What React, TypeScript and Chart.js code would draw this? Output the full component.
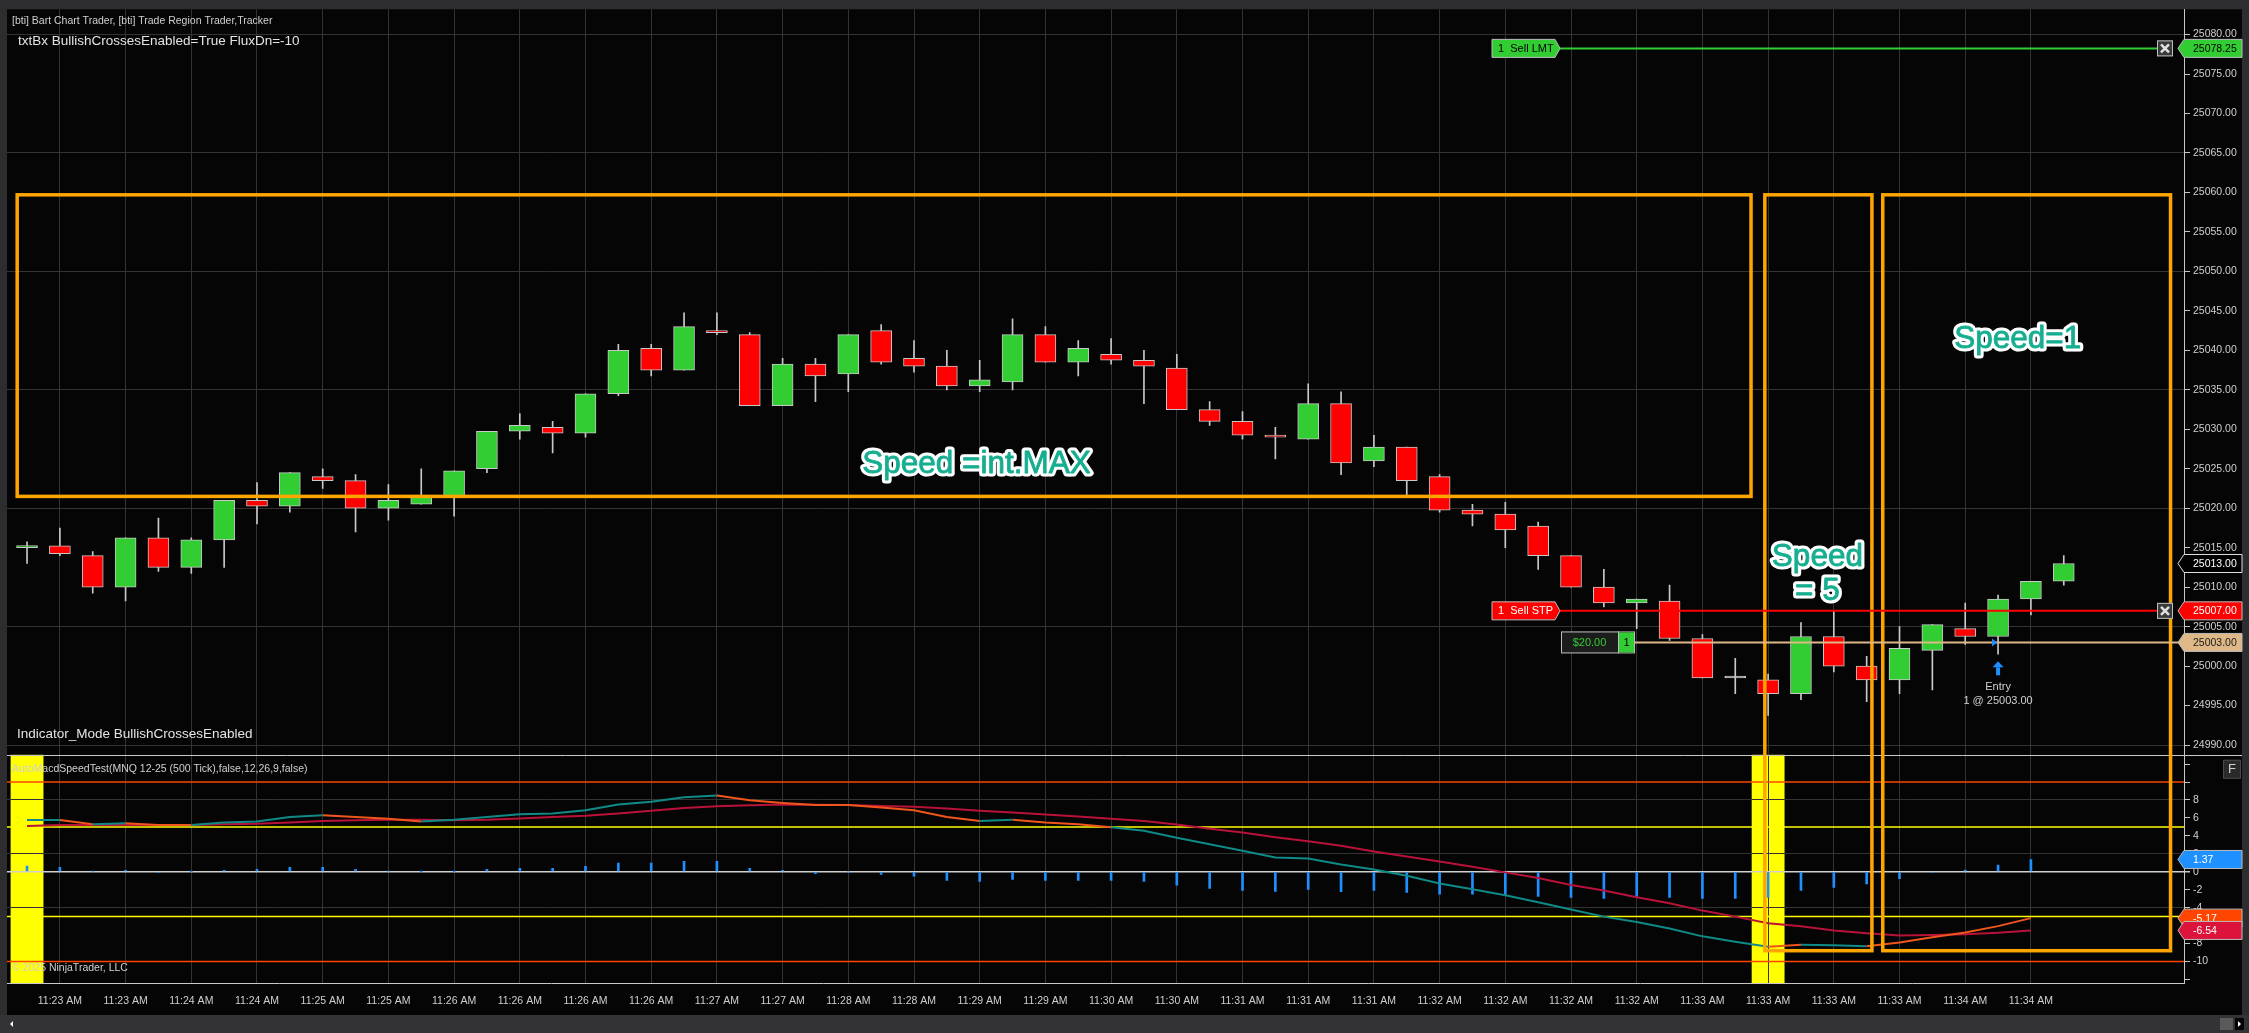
import React, { useEffect, useRef } from 'react';
import { Chart, registerables } from 'chart.js';

Chart.register(...registerables);

// ---------------- DATA ----------------
const opens = [
  25015, 25015.25, 25014, 25010, 25016.25, 25012.5, 25016, 25021, 25020.25, 25024,
  25023.5, 25020, 25020.5, 25021.5, 25025, 25029.75, 25030.25, 25029.5, 25034.5, 25040.25,
  25037.5, 25042.5, 25042, 25033, 25038.25, 25037, 25042.5, 25039, 25038, 25035.5,
  25036, 25042, 25038.5, 25039.5, 25038.75, 25037.75, 25032.5, 25031, 25029.25, 25028.75,
  25033.25, 25026, 25027.75, 25024, 25019.75, 25019.25, 25017.75, 25014, 25010, 25008,
  25008.25, 25003.5, 24998.5, 24998.25, 24996.5, 25003.75, 25000, 24998.25, 25002, 25004.75,
  25003.75, 25008.5, 25010.75,
];
const highs = [
  25015.75, 25017.5, 25014.5, 25016.25, 25018.75, 25016.25, 25021, 25023.25, 25024.5, 25025,
  25024.25, 25023, 25025, 25024.75, 25029.75, 25032, 25031, 25034.5, 25040.75, 25040.75,
  25044.75, 25044.75, 25042.25, 25039, 25039, 25042, 25043.25, 25041.25, 25040, 25038.75,
  25044, 25043, 25041.25, 25041.5, 25040, 25039.5, 25033.5, 25032.25, 25030.25, 25035.75,
  25034.75, 25029.25, 25027.75, 25024.25, 25020.5, 25020.75, 25018.25, 25014, 25012.25, 25008.5,
  25010.25, 25004, 25001, 24999, 25005.5, 25007, 25001.25, 25005, 25005.25, 25008,
  25009, 25010.75, 25014,
];
const lows = [
  25013, 25014, 25009.25, 25008.25, 25012, 25011.75, 25012.5, 25018, 25019.5, 25022.5,
  25017, 25018.5, 25020.5, 25019, 25024.5, 25028.75, 25027, 25029, 25034.25, 25036.75,
  25037.5, 25042, 25033, 25033, 25033.5, 25034.75, 25038.25, 25037.25, 25035, 25034.75,
  25035, 25038.5, 25036.75, 25038.25, 25033.25, 25032.5, 25030.5, 25028.75, 25026.25, 25028.75,
  25024.25, 25025.25, 25021.5, 25019.5, 25017.75, 25015, 25012.25, 25010, 25007.5, 25004.75,
  25003.25, 24998.5, 24996.5, 24993.75, 24995.75, 24999.25, 24995.5, 24996.5, 24997, 25002.75,
  25001.5, 25006.5, 25010.25,
];
const closes = [
  25015.25, 25014.25, 25010, 25016.25, 25012.5, 25016, 25021, 25020.25, 25024.5, 25023.5,
  25020, 25021, 25021.5, 25024.75, 25029.75, 25030.5, 25029.5, 25034.5, 25040, 25037.5,
  25043, 25042.25, 25033, 25038.25, 25036.75, 25042, 25038.5, 25038, 25035.5, 25036.25,
  25042, 25038.5, 25040.25, 25038.75, 25038, 25032.5, 25031, 25029.25, 25029, 25033.25,
  25025.75, 25027.75, 25023.5, 25019.75, 25019.25, 25017.25, 25014, 25010, 25008, 25008.5,
  25003.5, 24998.5, 24998.5, 24996.5, 25003.75, 25000, 24998.25, 25002.25, 25005.25, 25003.75,
  25008.5, 25010.75, 25013,
];

const macdValues = [
  5.78, 5.78, 5.3, 5.4, 5.2, 5.2, 5.5, 5.6, 6.1, 6.3,
  6.1, 5.9, 5.6, 5.8, 6.1, 6.4, 6.5, 6.85, 7.5, 7.8,
  8.3, 8.5, 7.96, 7.67, 7.44, 7.44, 7.15, 6.85, 6.1, 5.67,
  5.8, 5.48, 5.3, 4.96, 4.56, 3.8, 3.07, 2.33, 1.6, 1.48,
  0.8, 0.26, -0.44, -1.3, -1.96, -2.63, -3.4, -4.2, -5.0, -5.6,
  -6.33, -7.2, -7.8, -8.37, -8.15, -8.2, -8.3, -7.88, -7.3, -6.78,
  -6.06, -5.17,
];
const signalValues = [
  5.1, 5.2, 5.2, 5.2, 5.2, 5.2, 5.3, 5.35, 5.5, 5.65,
  5.75, 5.8, 5.8, 5.75, 5.8, 5.95, 6.1, 6.25, 6.5, 6.8,
  7.1, 7.3, 7.42, 7.5, 7.48, 7.45, 7.33, 7.26, 7.04, 6.8,
  6.6, 6.37, 6.15, 5.9, 5.67, 5.26, 4.8, 4.37, 3.85, 3.4,
  2.89, 2.26, 1.7, 1.15, 0.56, -0.07, -0.7, -1.48, -2.1, -2.85,
  -3.5, -4.33, -5.0, -5.74, -6.07, -6.55, -6.85, -7.1, -7.05, -6.96,
  -6.8, -6.54,
];
const histValues = [
  0.63, 0.5, 0.07, 0.15, -0.1, 0.02, 0.15, 0.26, 0.48, 0.48,
  0.26, 0.07, 0.02, 0.02, 0.26, 0.37, 0.37, 0.6, 0.96, 0.96,
  1.15, 1.15, 0.37, 0.15, -0.2, -0.02, -0.3, -0.5, -0.96, -1.07,
  -0.85, -0.96, -0.96, -0.96, -1.07, -1.5, -1.85, -2.07, -2.2, -1.96,
  -2.22, -2.07, -2.3, -2.5, -2.5, -2.63, -2.74, -2.85, -2.96, -2.74,
  -2.85, -2.96, -2.96, -2.85, -2.07, -1.74, -1.35, -0.78, -0.1, 0.18,
  0.74, 1.37,
];
// MACD segment state per segment (T = teal, O = orange)
const macdSegmentCodes = 'TOTOOTTTTOOO' + 'TTTTTTTTT' + 'O' + 'OOOOOOO' + 'T' + 'OOO' + 'TTTTTTTTTTTTTTTTTTTT' + 'O' + 'TT' + 'OOOOO';

const timeLabels = [
  '11:23 AM', '11:23 AM', '11:24 AM', '11:24 AM', '11:25 AM', '11:25 AM', '11:26 AM', '11:26 AM',
  '11:26 AM', '11:26 AM', '11:27 AM', '11:27 AM', '11:28 AM', '11:28 AM', '11:29 AM', '11:29 AM',
  '11:30 AM', '11:30 AM', '11:31 AM', '11:31 AM', '11:31 AM', '11:32 AM', '11:32 AM', '11:32 AM',
  '11:32 AM', '11:33 AM', '11:33 AM', '11:33 AM', '11:33 AM', '11:34 AM', '11:34 AM',
];
const priceTicks = [
  24990, 24995, 25000, 25005, 25010, 25015, 25020, 25025, 25030, 25035,
  25040, 25045, 25050, 25055, 25060, 25065, 25070, 25075, 25080,
];
const indicatorTicks = [-12, -10, -8, -6, -4, -2, 0, 2, 4, 6, 8, 10, 12];
const indicatorOuterLevels = [10, -10];
const indicatorInnerLevels = [5, -5];
const highlightBars = [0, 53];

const boxLeft = [-0.3, 52.9, 56.49];
const boxRight = [52.48, 56.16, 65.25];
const boxTopPrice = [25059.7, 25059.7, 25059.7];
const boxBottomPrice = [25021.5, NaN, NaN];
const boxBottomIndicator = [NaN, -8.8, -8.8];

const speedTexts = ['Speed =int.MAX', 'Speed', '= 5', 'Speed=1'];
const speedTextBar = [28.9, 54.5, 54.5, 60.6];
const speedTextPrice = [25025.5, 25013.8, 25009.5, 25041.4];

const sellLimitPrice = 25078.25;
const sellStopPrice = 25007;
const avgEntryPrice = 25003;
const entryBar = 60;
const positionQty = 1;
const unrealizedPnl = '$20.00';

// ---------------- STYLE ----------------
const GREEN = '#32cd32';
const RED = '#ff0000';
const OUTLINE = '#c8c8c8';
const BLUE = '#1e90ff';
const TEAL = '#0f8a86';
const ORANGE = '#f0561c';
const CRIMSON = '#b8123a';
const GRID = '#333333';
const AXIS = '#c8c8c8';
const LABEL = '#d0d0d0';
const BOX = '#ffa500';
const FRAME = '#2d2d30';
const BG = '#050505';
const TAN = '#deb887';
const SPEED = '#16ae90';
const FONT = '"Liberation Sans", Arial, sans-serif';

function valueTag(ctx: CanvasRenderingContext2D, x: number, yc: number, text: string, fill: string, color: string, stroke: string) {
  const h = 18, w = 58, p = 6;
  ctx.beginPath();
  ctx.moveTo(x - p, yc);
  ctx.lineTo(x, yc - h / 2);
  ctx.lineTo(x + w, yc - h / 2);
  ctx.lineTo(x + w, yc + h / 2);
  ctx.lineTo(x, yc + h / 2);
  ctx.closePath();
  ctx.fillStyle = fill;
  ctx.fill();
  ctx.strokeStyle = stroke;
  ctx.lineWidth = 1;
  ctx.stroke();
  ctx.fillStyle = color;
  ctx.font = `10.5px ${FONT}`;
  ctx.textAlign = 'left';
  ctx.textBaseline = 'middle';
  ctx.fillText(text, x + 9, yc + 0.5);
}

function orderTag(ctx: CanvasRenderingContext2D, xl: number, xr: number, yc: number, text: string, fill: string, color: string) {
  const h = 18;
  ctx.beginPath();
  ctx.moveTo(xl, yc - h / 2);
  ctx.lineTo(xr - 5, yc - h / 2);
  ctx.lineTo(xr, yc);
  ctx.lineTo(xr - 5, yc + h / 2);
  ctx.lineTo(xl, yc + h / 2);
  ctx.closePath();
  ctx.fillStyle = fill;
  ctx.fill();
  ctx.strokeStyle = '#bdbdbd';
  ctx.lineWidth = 1;
  ctx.stroke();
  ctx.fillStyle = color;
  ctx.font = `11px ${FONT}`;
  ctx.textAlign = 'left';
  ctx.textBaseline = 'middle';
  ctx.fillText(text, xl + 6, yc + 0.5);
}

function closeButton(ctx: CanvasRenderingContext2D, x: number, yc: number) {
  ctx.fillStyle = '#3a3a3a';
  ctx.fillRect(x, yc - 8, 16, 16);
  ctx.strokeStyle = '#bdbdbd';
  ctx.lineWidth = 1;
  ctx.strokeRect(x + 0.5, yc - 7.5, 15, 15);
  ctx.strokeStyle = '#e0e0e0';
  ctx.lineWidth = 2.5;
  ctx.beginPath();
  ctx.moveTo(x + 4, yc - 4);
  ctx.lineTo(x + 12, yc + 4);
  ctx.moveTo(x + 12, yc - 4);
  ctx.lineTo(x + 4, yc + 4);
  ctx.stroke();
}

const ninjaPlugin = {
  id: 'ninja',
  beforeDraw(chart: any) {
    const { ctx, chartArea: a, scales } = chart;
    const xs = scales.x, y2 = scales.y2, ys = scales.y;
    ctx.save();
    ctx.fillStyle = FRAME;
    ctx.fillRect(0, 0, chart.width, chart.height);
    ctx.fillStyle = BG;
    ctx.fillRect(a.left, a.top, ys.right - a.left, xs.bottom - a.top);
    // yellow highlight bars in indicator panel
    ctx.fillStyle = '#ffff00';
    highlightBars.forEach((i) => {
      const x0 = Math.max(a.left, xs.getPixelForValue(i - 0.5));
      const x1 = xs.getPixelForValue(i + 0.5);
      ctx.fillRect(x0, y2.top, x1 - x0, y2.bottom - y2.top);
    });
    ctx.restore();
  },
  beforeDatasetsDraw(chart: any) {
    const { ctx, chartArea: a, scales } = chart;
    const y2 = scales.y2;
    ctx.save();
    ctx.lineWidth = 1.5;
    indicatorOuterLevels.forEach((v) => {
      const y = y2.getPixelForValue(v);
      ctx.strokeStyle = '#ff4500';
      ctx.beginPath(); ctx.moveTo(a.left, y); ctx.lineTo(a.right, y); ctx.stroke();
    });
    indicatorInnerLevels.forEach((v) => {
      const y = y2.getPixelForValue(v);
      ctx.strokeStyle = '#ffff00';
      ctx.beginPath(); ctx.moveTo(a.left, y); ctx.lineTo(a.right, y); ctx.stroke();
    });
    ctx.restore();
  },
  afterDraw(chart: any) {
    const { ctx, chartArea: a, scales } = chart;
    const xs = scales.x, ys = scales.y, y2 = scales.y2;
    ctx.save();

    // panel separator
    ctx.strokeStyle = AXIS;
    ctx.lineWidth = 1;
    ctx.beginPath();
    ctx.moveTo(a.left, Math.round(y2.top) + 0.5);
    ctx.lineTo(ys.right, Math.round(y2.top) + 0.5);
    ctx.stroke();

    // orange region boxes
    ctx.strokeStyle = BOX;
    ctx.lineWidth = 3.5;
    boxLeft.forEach((bl, k) => {
      const x0 = xs.getPixelForValue(bl);
      const x1 = xs.getPixelForValue(boxRight[k]);
      const yt = ys.getPixelForValue(boxTopPrice[k]);
      const yb = isNaN(boxBottomPrice[k]) ? y2.getPixelForValue(boxBottomIndicator[k]) : ys.getPixelForValue(boxBottomPrice[k]);
      ctx.strokeRect(x0, yt, x1 - x0, yb - yt);
    });

    // order lines
    const tagL = a.right - 692, tagR = a.right - 624, xBtn = a.right - 27;
    const yLmt = ys.getPixelForValue(sellLimitPrice);
    const yStp = ys.getPixelForValue(sellStopPrice);
    const yAvg = ys.getPixelForValue(avgEntryPrice);
    ctx.lineWidth = 2;
    ctx.strokeStyle = GREEN;
    ctx.beginPath(); ctx.moveTo(tagR, yLmt); ctx.lineTo(xBtn, yLmt); ctx.stroke();
    ctx.strokeStyle = RED;
    ctx.beginPath(); ctx.moveTo(tagR, yStp); ctx.lineTo(xBtn, yStp); ctx.stroke();
    const pnlL = a.right - 623, pnlMid = a.right - 566, pnlR = a.right - 549;
    ctx.strokeStyle = TAN;
    ctx.beginPath(); ctx.moveTo(pnlR, yAvg); ctx.lineTo(a.right, yAvg); ctx.stroke();

    orderTag(ctx, tagL, tagR, yLmt, `${positionQty}  Sell LMT`, GREEN, '#000000');
    orderTag(ctx, tagL, tagR, yStp, `${positionQty}  Sell STP`, RED, '#ffffff');
    closeButton(ctx, xBtn, yLmt);
    closeButton(ctx, xBtn, yStp);

    // PnL box
    ctx.fillStyle = '#1c1c1c';
    ctx.fillRect(pnlL, yAvg - 11, pnlMid - pnlL, 22);
    ctx.strokeStyle = '#bdbdbd';
    ctx.lineWidth = 1;
    ctx.strokeRect(pnlL + 0.5, yAvg - 10.5, pnlR - pnlL - 1, 21);
    ctx.fillStyle = GREEN;
    ctx.fillRect(pnlMid, yAvg - 10, pnlR - pnlMid - 1, 20);
    ctx.strokeStyle = '#bdbdbd';
    ctx.beginPath(); ctx.moveTo(pnlMid + 0.5, yAvg - 11); ctx.lineTo(pnlMid + 0.5, yAvg + 11); ctx.stroke();
    ctx.font = `11px ${FONT}`;
    ctx.textBaseline = 'middle';
    ctx.textAlign = 'center';
    ctx.fillStyle = GREEN;
    ctx.fillText(unrealizedPnl, (pnlL + pnlMid) / 2, yAvg + 0.5);
    ctx.fillStyle = '#000000';
    ctx.fillText(String(positionQty), (pnlMid + pnlR) / 2, yAvg + 0.5);

    // entry marker
    const xe = xs.getPixelForValue(entryBar);
    const yl = ys.getPixelForValue(lows[entryBar]);
    ctx.fillStyle = BLUE;
    ctx.beginPath();
    ctx.moveTo(xe, yl + 7); ctx.lineTo(xe - 5.5, yl + 13); ctx.lineTo(xe + 5.5, yl + 13); ctx.closePath();
    ctx.fill();
    ctx.fillRect(xe - 2, yl + 13, 4, 8);
    ctx.beginPath();
    ctx.moveTo(xe - 6, yAvg - 4); ctx.lineTo(xe - 6, yAvg + 4); ctx.lineTo(xe - 1, yAvg); ctx.closePath();
    ctx.fill();
    ctx.fillStyle = LABEL;
    ctx.font = `11px ${FONT}`;
    ctx.textAlign = 'center';
    ctx.fillText('Entry', xe, yl + 33);
    ctx.fillText(`${positionQty} @ ${avgEntryPrice.toFixed(2)}`, xe, yl + 47);

    // speed annotations
    ctx.font = `31.5px ${FONT}`;
    ctx.textAlign = 'center';
    ctx.textBaseline = 'middle';
    ctx.lineJoin = 'round';
    speedTexts.forEach((t, k) => {
      const x = xs.getPixelForValue(speedTextBar[k]);
      const y = ys.getPixelForValue(speedTextPrice[k]);
      ctx.strokeStyle = '#ffffff';
      ctx.lineWidth = 7;
      ctx.strokeText(t, x, y);
      ctx.fillStyle = SPEED;
      ctx.fillText(t, x, y);
      ctx.strokeStyle = SPEED;
      ctx.lineWidth = 0.8;
      ctx.strokeText(t, x, y);
    });

    // panel texts
    ctx.textAlign = 'left';
    ctx.textBaseline = 'middle';
    ctx.fillStyle = LABEL;
    ctx.font = `10.5px ${FONT}`;
    ctx.fillText('[bti] Bart Chart Trader, [bti] Trade Region Trader,Tracker', a.left + 5, a.top + 12);
    ctx.fillStyle = '#e4e4e4';
    ctx.font = `13.5px ${FONT}`;
    ctx.fillText('txtBx BullishCrossesEnabled=True FluxDn=-10', a.left + 11, a.top + 32);
    ctx.fillText('Indicator_Mode BullishCrossesEnabled', a.left + 10, ys.bottom - 20);
    ctx.fillStyle = LABEL;
    ctx.font = `10.5px ${FONT}`;
    ctx.fillText('AutoMacdSpeedTest(MNQ 12-25 (500 Tick),false,12,26,9,false)', a.left + 5, y2.top + 14);
    ctx.fillText('\u00a9 2025 NinjaTrader, LLC', a.left + 5, y2.bottom - 15);

    // value tags on the axis
    const last = closes.length - 1;
    valueTag(ctx, a.right, yLmt, sellLimitPrice.toFixed(2), GREEN, '#000000', '#bdbdbd');
    valueTag(ctx, a.right, ys.getPixelForValue(closes[last]), closes[last].toFixed(2), '#000000', '#ffffff', '#e0e0e0');
    valueTag(ctx, a.right, yStp, sellStopPrice.toFixed(2), RED, '#ffffff', '#bdbdbd');
    valueTag(ctx, a.right, yAvg, avgEntryPrice.toFixed(2), TAN, '#1a1a1a', '#bdbdbd');
    const li = macdValues.length - 1;
    valueTag(ctx, a.right, y2.getPixelForValue(histValues[li]), histValues[li].toFixed(2), BLUE, '#ffffff', '#bdbdbd');
    valueTag(ctx, a.right, y2.getPixelForValue(macdValues[li]), macdValues[li].toFixed(2), '#ff4500', '#ffffff', '#bdbdbd');
    valueTag(ctx, a.right, y2.getPixelForValue(signalValues[li]), signalValues[li].toFixed(2), '#dc143c', '#ffffff', '#bdbdbd');

    // F button
    const fx = ys.right - 19, fy = y2.top + 5;
    ctx.fillStyle = '#2a2a2a';
    ctx.fillRect(fx, fy, 18, 19);
    ctx.strokeStyle = '#4a4a4a';
    ctx.strokeRect(fx + 0.5, fy + 0.5, 17, 18);
    ctx.fillStyle = '#d0d0d0';
    ctx.font = `13px ${FONT}`;
    ctx.textAlign = 'center';
    ctx.fillText('F', fx + 9, fy + 10);

    // bottom scrollbar
    const sy = xs.bottom;
    ctx.fillStyle = '#333336';
    ctx.fillRect(0, sy, chart.width, chart.height - sy);
    ctx.fillStyle = '#ffffff';
    ctx.beginPath(); ctx.moveTo(a.left + 3, sy + 9); ctx.lineTo(a.left + 6, sy + 6); ctx.lineTo(a.left + 6, sy + 12); ctx.closePath(); ctx.fill();
    ctx.fillStyle = '#5a5a5a';
    ctx.fillRect(ys.right - 22, sy + 3, 13, 12);
    ctx.fillStyle = '#000000';
    ctx.fillRect(ys.right - 7, sy + 3, 9, 12);
    ctx.fillStyle = '#ffffff';
    ctx.beginPath(); ctx.moveTo(ys.right - 4, sy + 6); ctx.lineTo(ys.right - 1, sy + 9); ctx.lineTo(ys.right - 4, sy + 12); ctx.closePath(); ctx.fill();

    ctx.restore();
  },
};

export default function App() {
  const ref = useRef<HTMLCanvasElement>(null);
  useEffect(() => {
    document.body.style.margin = '0';
    document.body.style.background = '#000';
    const canvas = ref.current;
    if (!canvas) return;
    const idx = opens.map((_, i) => i);
    const bodyColors = idx.map((i) => (closes[i] > opens[i] ? GREEN : closes[i] < opens[i] ? RED : OUTLINE));
    const xTickValues = timeLabels.map((_, k) => 2 * k + 1);

    const chart = new Chart(canvas, {
      type: 'bar',
      data: {
        datasets: [
          {
            type: 'line',
            label: 'MACD',
            data: macdValues.map((v, i) => ({ x: i, y: v })),
            borderColor: TEAL,
            borderWidth: 2,
            pointRadius: 0,
            tension: 0,
            yAxisID: 'y2',
            xAxisID: 'x',
            order: 1,
            segment: {
              borderColor: (c: any) => (macdSegmentCodes[c.p0DataIndex] === 'O' ? ORANGE : TEAL),
            },
          } as any,
          {
            type: 'line',
            label: 'Signal',
            data: signalValues.map((v, i) => ({ x: i, y: v })),
            borderColor: CRIMSON,
            borderWidth: 2,
            pointRadius: 0,
            tension: 0,
            yAxisID: 'y2',
            xAxisID: 'x',
            order: 2,
          } as any,
          {
            type: 'bar',
            label: 'Body',
            data: idx.map((i) => ({ x: i, y: [opens[i], closes[i]] })),
            backgroundColor: bodyColors,
            borderColor: OUTLINE,
            borderWidth: 1,
            borderSkipped: false,
            barThickness: 21,
            minBarLength: 2,
            grouped: false,
            yAxisID: 'y',
            xAxisID: 'x',
            order: 3,
          } as any,
          {
            type: 'bar',
            label: 'Wick',
            data: idx.map((i) => ({ x: i, y: [lows[i], highs[i]] })),
            backgroundColor: OUTLINE,
            borderWidth: 0,
            barThickness: 1,
            grouped: false,
            yAxisID: 'y',
            xAxisID: 'x',
            order: 4,
          } as any,
          {
            type: 'bar',
            label: 'Histogram',
            data: histValues.map((v, i) => ({ x: i, y: v })),
            backgroundColor: BLUE,
            borderWidth: 0,
            barThickness: 2,
            grouped: false,
            yAxisID: 'y2',
            xAxisID: 'x',
            order: 5,
          } as any,
        ],
      },
      options: {
        responsive: false,
        animation: false,
        devicePixelRatio: 1,
        events: [],
        layout: { padding: { left: 7, top: 6, right: 7, bottom: 18 } },
        plugins: { legend: { display: false }, tooltip: { enabled: false } },
        scales: {
          x: {
            type: 'linear',
            position: 'bottom',
            min: -0.61,
            max: 65.66,
            offset: false,
            grid: { color: GRID, drawTicks: false, offset: false, lineWidth: 1 },
            border: { display: true, color: AXIS, width: 1 },
            ticks: {
              color: LABEL,
              font: { family: FONT, size: 10.5 },
              padding: 12,
              autoSkip: false,
              maxRotation: 0,
              callback: (v: any) => timeLabels[(Number(v) - 1) / 2] ?? '',
            },
            afterBuildTicks: (s: any) => {
              s.ticks = xTickValues.map((v) => ({ value: v }));
            },
            afterFit: (s: any) => {
              s.height = 32;
            },
          },
          y: {
            type: 'linear',
            position: 'right',
            stack: 'panes',
            stackWeight: 748,
            min: 24988.77,
            max: 25083.2,
            beginAtZero: false,
            grid: {
              color: (c: any) => {
                const v = c.tick ? Math.round(c.tick.value) : 0;
                return (v - 24990) % 15 === 0 ? GRID : 'rgba(0,0,0,0)';
              },
              tickColor: AXIS,
              tickLength: 6,
            },
            border: { display: true, color: AXIS, width: 1 },
            ticks: {
              color: LABEL,
              font: { family: FONT, size: 10.5 },
              padding: 3,
              autoSkip: false,
              callback: (v: any) => Number(v).toFixed(2),
            },
            afterBuildTicks: (s: any) => {
              s.ticks = priceTicks.map((v) => ({ value: v }));
            },
            afterFit: (s: any) => {
              s.width = 58;
            },
          },
          y2: {
            type: 'linear',
            position: 'right',
            stack: 'panes',
            stackWeight: 229,
            min: -12.4,
            max: 13.04,
            beginAtZero: false,
            grid: {
              color: (c: any) => {
                const v = c.tick ? c.tick.value : 1;
                if (v === 0) return '#d0d0d0';
                return v === 8 || v === 2 || v === -4 || v === -10 ? GRID : 'rgba(0,0,0,0)';
              },
              lineWidth: (c: any) => (c.tick && c.tick.value === 0 ? 1.5 : 1),
              tickColor: AXIS,
              tickLength: 6,
            },
            border: { display: true, color: AXIS, width: 1 },
            ticks: {
              color: LABEL,
              font: { family: FONT, size: 10.5 },
              padding: 3,
              autoSkip: false,
              callback: (v: any) => (Number(v) > 8 || Number(v) < -10 ? '' : String(v)),
            },
            afterBuildTicks: (s: any) => {
              s.ticks = indicatorTicks.map((v) => ({ value: v }));
            },
            afterFit: (s: any) => {
              s.width = 58;
            },
          },
        },
      } as any,
      plugins: [ninjaPlugin],
    });
    return () => chart.destroy();
  }, []);

  return (
    <div style={{ width: 2249, height: 1033, overflow: 'hidden' }}>
      <canvas ref={ref} width={2249} height={1033} style={{ display: 'block', width: 2249, height: 1033 }} />
    </div>
  );
}
